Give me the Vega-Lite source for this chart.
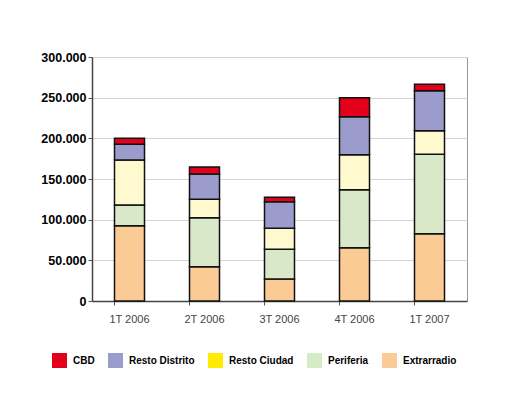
{
  "$schema": "https://vega.github.io/schema/vega-lite/v6.json",
  "width": 375,
  "height": 244,
  "autosize": {"type": "none"},
  "padding": {"left": 92, "top": 57, "right": 42, "bottom": 99},
  "background": "white",
  "config": {
    "locale": {"number": {"decimal": ",", "thousands": ".", "grouping": [3], "currency": ["", " €"]}},
    "font": "Liberation Sans",
    "view": {"stroke": "#9a9a9a", "strokeWidth": 1}
  },
  "data": {
    "values": [
      {"periodo": "1T 2006", "zona": "Extrarradio", "orden": 1, "valor": 92600},
      {"periodo": "1T 2006", "zona": "Periferia", "orden": 2, "valor": 25400},
      {"periodo": "1T 2006", "zona": "Resto Ciudad", "orden": 3, "valor": 55400},
      {"periodo": "1T 2006", "zona": "Resto Distrito", "orden": 4, "valor": 19300},
      {"periodo": "1T 2006", "zona": "CBD", "orden": 5, "valor": 7300},
      {"periodo": "2T 2006", "zona": "Extrarradio", "orden": 1, "valor": 42200},
      {"periodo": "2T 2006", "zona": "Periferia", "orden": 2, "valor": 60300},
      {"periodo": "2T 2006", "zona": "Resto Ciudad", "orden": 3, "valor": 22500},
      {"periodo": "2T 2006", "zona": "Resto Distrito", "orden": 4, "valor": 31150},
      {"periodo": "2T 2006", "zona": "CBD", "orden": 5, "valor": 8600},
      {"periodo": "3T 2006", "zona": "Extrarradio", "orden": 1, "valor": 27000},
      {"periodo": "3T 2006", "zona": "Periferia", "orden": 2, "valor": 36500},
      {"periodo": "3T 2006", "zona": "Resto Ciudad", "orden": 3, "valor": 25900},
      {"periodo": "3T 2006", "zona": "Resto Distrito", "orden": 4, "valor": 32700},
      {"periodo": "3T 2006", "zona": "CBD", "orden": 5, "valor": 5400},
      {"periodo": "4T 2006", "zona": "Extrarradio", "orden": 1, "valor": 65600},
      {"periodo": "4T 2006", "zona": "Periferia", "orden": 2, "valor": 71300},
      {"periodo": "4T 2006", "zona": "Resto Ciudad", "orden": 3, "valor": 43000},
      {"periodo": "4T 2006", "zona": "Resto Distrito", "orden": 4, "valor": 46700},
      {"periodo": "4T 2006", "zona": "CBD", "orden": 5, "valor": 23400},
      {"periodo": "1T 2007", "zona": "Extrarradio", "orden": 1, "valor": 82800},
      {"periodo": "1T 2007", "zona": "Periferia", "orden": 2, "valor": 97500},
      {"periodo": "1T 2007", "zona": "Resto Ciudad", "orden": 3, "valor": 29100},
      {"periodo": "1T 2007", "zona": "Resto Distrito", "orden": 4, "valor": 49200},
      {"periodo": "1T 2007", "zona": "CBD", "orden": 5, "valor": 7800}
    ]
  },
  "encoding": {
    "x": {
      "field": "periodo",
      "type": "nominal",
      "sort": ["1T 2006", "2T 2006", "3T 2006", "4T 2006", "1T 2007"],
      "scale": {"paddingInner": 0.6, "paddingOuter": 0.3},
      "axis": {
        "title": null,
        "labelAngle": 0,
        "labelFont": "Liberation Sans",
        "labelFontSize": 11,
        "labelColor": "#444444",
        "labelPadding": 8,
        "bandPosition": 0,
        "tickSize": 4,
        "tickColor": "#555555",
        "domainColor": "#444444",
        "domainWidth": 1.5,
        "grid": false
      }
    },
    "y": {
      "field": "valor",
      "type": "quantitative",
      "stack": "zero",
      "scale": {"domain": [0, 300000], "nice": false},
      "axis": {
        "title": null,
        "values": [0, 50000, 100000, 150000, 200000, 250000, 300000],
        "format": ",d",
        "labelFont": "Liberation Sans",
        "labelFontSize": 12.5,
        "labelFontWeight": "bold",
        "labelColor": "#000000",
        "labelPadding": 2,
        "tickSize": 4,
        "tickColor": "#555555",
        "domainColor": "#444444",
        "domainWidth": 1.5,
        "grid": true,
        "gridColor": "#d4d4d4",
        "gridWidth": 1
      }
    }
  },
  "layer": [
    {
      "mark": {"type": "bar", "stroke": "#111111", "strokeWidth": 1.5},
      "encoding": {
        "color": {
          "field": "zona",
          "type": "nominal",
          "scale": {
            "domain": ["CBD", "Resto Distrito", "Resto Ciudad", "Periferia", "Extrarradio"],
            "range": ["#E2001A", "#9C9CCC", "#FFF9CF", "#DAE8CA", "#FBCB96"]
          },
          "legend": null
        },
        "order": {"field": "orden", "type": "quantitative"}
      }
    },
    {
      "transform": [{"filter": "datum.valor < 0"}],
      "mark": {"type": "bar"},
      "encoding": {
        "color": {
          "field": "zona",
          "type": "nominal",
          "scale": {
            "domain": ["CBD", "Resto Distrito", "Resto Ciudad", "Periferia", "Extrarradio"],
            "range": ["#E2001A", "#9C9CCC", "#FFEB00", "#D4EBC8", "#FBCB96"]
          },
          "legend": {
            "title": null,
            "orient": "none",
            "legendX": -40,
            "legendY": 296,
            "direction": "horizontal",
            "symbolType": "square",
            "symbolSize": 225,
            "symbolStrokeWidth": 0,
            "labelFont": "Liberation Sans",
            "labelFontSize": 10,
            "labelFontWeight": "bold",
            "labelColor": "#000000",
            "labelOffset": 6,
            "columnPadding": 13
          }
        }
      }
    }
  ],
  "resolve": {"scale": {"color": "independent"}, "legend": {"color": "independent"}}
}
